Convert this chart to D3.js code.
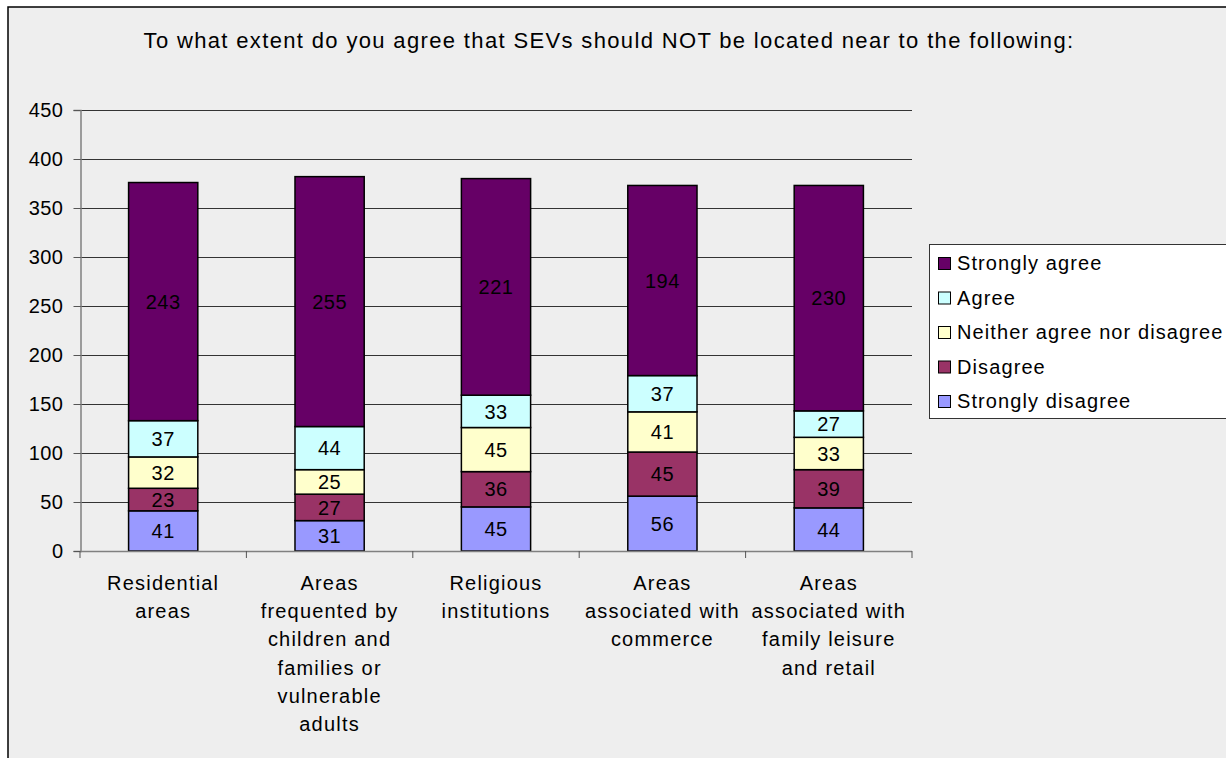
<!DOCTYPE html>
<html>
<head>
<meta charset="utf-8">
<script src="https://cdn.jsdelivr.net/npm/d3@7"></script>
<style>
  body { margin: 0; background: #fff; }
  svg { display: block; font-family: "Liberation Sans", Arial, sans-serif; }
</style>
</head>
<body>
<svg id="chart" width="1226" height="758"></svg>
<script>
const categories = [
  ["Residential", "areas"],
  ["Areas", "frequented by", "children and", "families or", "vulnerable", "adults"],
  ["Religious", "institutions"],
  ["Areas", "associated with", "commerce"],
  ["Areas", "associated with", "family leisure", "and retail"]
];
const seriesNames = ["Strongly disagree", "Disagree", "Neither agree nor disagree", "Agree", "Strongly agree"];
const seriesColors = ["#9999FF", "#993366", "#FFFFCC", "#CCFFFF", "#660066"];
const stronglyDisagree = [41, 31, 45, 56, 44];
const disagree = [23, 27, 36, 45, 39];
const neither = [32, 25, 45, 41, 33];
const agree = [37, 44, 33, 37, 27];
const stronglyAgree = [243, 255, 221, 194, 230];
const yTicks = [0, 50, 100, 150, 200, 250, 300, 350, 400, 450];
const title = "To what extent do you agree that SEVs should NOT be located near to the following:";

const svg = d3.select("#chart");

// outer chart frame
svg.append("rect")
    .attr("x", 8).attr("y", 7)
    .attr("width", 1240).attr("height", 780)
    .attr("fill", "#EEEEEE")
    .attr("stroke", "#000")
    .attr("stroke-width", 1.5);

svg.append("text")
    .attr("x", 609)
    .attr("y", 48)
    .attr("text-anchor", "middle")
    .style("font-size", "22px")
    .style("letter-spacing", "1.35px")
    .text(title);

const plot = { left: 80, right: 912, top: 110, bottom: 551 };

const x = d3.scaleBand()
    .domain(d3.range(categories.length))
    .range([plot.left, plot.right])
    .paddingInner(0.584)
    .paddingOuter(0.292);

const y = d3.scaleLinear()
    .domain([0, 450])
    .range([plot.bottom, plot.top]);

// gridlines
svg.append("g")
    .selectAll("line")
    .data(yTicks.filter(d => d > 0))
    .enter()
    .append("line")
    .attr("x1", plot.left).attr("x2", plot.right)
    .attr("y1", d => Math.round(y(d)) + 0.5)
    .attr("y2", d => Math.round(y(d)) + 0.5)
    .attr("stroke", "#333")
    .attr("stroke-width", 1);

// y axis
const yAxis = svg.append("g")
    .attr("transform", `translate(${plot.left + 0.5},0)`)
    .call(d3.axisLeft(y).tickValues(yTicks).tickSize(7).tickPadding(10));
yAxis.select(".domain").attr("stroke", "#808080").attr("stroke-width", 1.5);
yAxis.selectAll(".tick line").attr("stroke", "#555");
yAxis.selectAll(".tick text")
    .style("font-size", "20px")
    .style("letter-spacing", "0.5px")
    .style("font-family", "Liberation Sans, Arial, sans-serif")
    .attr("fill", "#000");

// stacked bars
const rows = categories.map((c, i) => ({
    i: i,
    values: [stronglyDisagree[i], disagree[i], neither[i], agree[i], stronglyAgree[i]]
}));
const stack = d3.stack().keys(d3.range(seriesNames.length)).value((d, k) => d.values[k]);
const layers = stack(rows);

const layerG = svg.append("g")
    .selectAll("g")
    .data(layers)
    .enter()
    .append("g")
    .attr("fill", (d, k) => seriesColors[k]);

layerG.selectAll("rect")
    .data(d => d)
    .enter()
    .append("rect")
    .attr("x", d => x(d.data.i))
    .attr("width", x.bandwidth())
    .attr("y", d => y(d[1]))
    .attr("height", d => y(d[0]) - y(d[1]))
    .attr("stroke", "#000")
    .attr("stroke-width", 1.5);

layerG.selectAll("text")
    .data(d => d)
    .enter()
    .append("text")
    .attr("x", d => x(d.data.i) + x.bandwidth() / 2)
    .attr("y", d => (y(d[0]) + y(d[1])) / 2)
    .attr("dy", "0.36em")
    .attr("text-anchor", "middle")
    .attr("fill", "#000")
    .style("font-size", "20px")
    .style("letter-spacing", "0.5px")
    .text(d => d[1] - d[0]);

// x axis
const xAxisG = svg.append("g");
xAxisG.append("line")
    .attr("x1", plot.left).attr("x2", plot.right)
    .attr("y1", plot.bottom + 0.5).attr("y2", plot.bottom + 0.5)
    .attr("stroke", "#808080")
    .attr("stroke-width", 1.5);
xAxisG.selectAll("line.tick")
    .data(d3.range(categories.length + 1))
    .enter()
    .append("line")
    .attr("class", "tick")
    .attr("x1", i => plot.left + i * x.step())
    .attr("x2", i => plot.left + i * x.step())
    .attr("y1", plot.bottom)
    .attr("y2", plot.bottom + 7)
    .attr("stroke", "#555");

// category labels
const labels = svg.append("g")
    .selectAll("text")
    .data(categories)
    .enter()
    .append("text")
    .attr("text-anchor", "middle")
    .style("font-size", "20px")
    .style("letter-spacing", "1.2px")
    .attr("fill", "#000");

labels.selectAll("tspan")
    .data((d, i) => d.map(line => ({ line: line, i: i })))
    .enter()
    .append("tspan")
    .attr("x", d => x(d.i) + x.bandwidth() / 2)
    .attr("y", (d, j) => 590 + j * 28.2)
    .text(d => d.line);

// legend
const legend = svg.append("g");
legend.append("rect")
    .attr("x", 929.5).attr("y", 244.5)
    .attr("width", 320).attr("height", 174)
    .attr("fill", "#fff")
    .attr("stroke", "#333")
    .attr("stroke-width", 1);

const legendOrder = d3.range(seriesNames.length).reverse();
const items = legend.selectAll("g.item")
    .data(legendOrder)
    .enter()
    .append("g")
    .attr("class", "item")
    .attr("transform", (k, j) => `translate(938,${263 + j * 34.5})`);

items.append("rect")
    .attr("x", 0.5).attr("y", -5.5)
    .attr("width", 12).attr("height", 12)
    .attr("fill", k => seriesColors[k])
    .attr("stroke", "#000")
    .attr("stroke-width", 1);

items.append("text")
    .attr("x", 19)
    .attr("dy", "0.36em")
    .style("font-size", "20px")
    .style("letter-spacing", "1.1px")
    .attr("fill", "#000")
    .text(k => seriesNames[k]);
</script>
</body>
</html>
